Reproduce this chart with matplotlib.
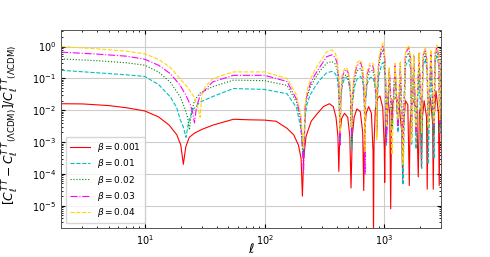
import numpy as np
import matplotlib
matplotlib.use("Agg")
import matplotlib.pyplot as plt

# beta = 0.001
ell_r = [2, 3, 5, 7, 10, 13, 16, 18.5, 20, 21, 22, 23.5, 26, 30, 37, 45, 55, 75, 100, 125,
         154, 175, 192, 202, 207, 212, 222, 245, 273, 310, 348, 375, 395, 410, 417, 424, 440,
         465, 495, 515, 527, 540, 560, 590, 630, 660, 673, 685, 705, 740, 780, 805, 812, 820,
         840, 880, 920, 970, 1000, 1007, 1015, 1040, 1070, 1110, 1130, 1150, 1190, 1250, 1320,
         1400, 1422, 1445, 1500, 1570, 1616, 1640, 1720, 1860, 1920, 1960, 2000, 2040, 2080,
         2150, 2250, 2280, 2310, 2420, 2530, 2560, 2600, 2700, 2830, 2870, 2920, 3000]
val_r = [.016, .0158, .014, .012, .0095, .0062, .0034, .0017, .0008, .0002, .0007, .0014, .0019,
         .0025, .0034, .0042, .0052, .005, .0049, .0045, .0027, .0017, .0008, .0003, .00002,
         .0003, .0015, .0045, .0075, .013, .016, .013, .006, .0015, .00012, .0015, .0055, .008,
         .006, .0015, .000036, .0015, .006, .011, .009, .002, .00003, .002, .008, .013, .008,
         .0005, 1e-6, .0008, .01, .024, .028, .012, .0006, .000054, .0008, .012, .025, .008,
         .000008, .005, .022, .025, .018, .002, .000068, .003, .02, .015, .000043, .004, .022,
         .012, .00008, .008, .012, .00016, .006, .02, .006, .000033, .004, .025, .004, .000033,
         .005, .04, .008, .000043, .005, .012]

# low-ell part, one per beta
ell_c_lo = [2, 4, 7, 10, 13, 16.4, 18.5, 19.8, 21, 22.1, 23.2, 25, 29, 37, 55, 100, 154, 185, 200]
val_c_lo = [.18, .15, .13, .115, .065, .026, .012, .005, .003, .0014, .004, .01, .018, .027,
            .048, .045, .033, .012, .003]
ell_g_lo = [2, 4, 7, 10, 13, 16.4, 19.8, 21.5, 22.8, 23.6, 24.5, 26, 29, 37, 55, 100, 154, 185, 200]
val_g_lo = [.41, .36, .31, .26, .16, .075, .026, .012, .006, .0024, .008, .02, .035, .055, .088,
            .085, .06, .018, .005]
ell_m_lo = [2, 4, 7, 10, 13, 16.4, 19.8, 22, 24, 25.2, 26, 27, 29, 37, 55, 100, 154, 185, 200]
val_m_lo = [.67, .58, .5, .4, .26, .14, .06, .03, .015, .008, .004, .012, .03, .078, .125, .125,
            .08, .022, .006]
ell_y_lo = [2, 4, 7, 10, 13, 16.4, 19.8, 23, 26, 27.8, 29, 30, 32, 37, 55, 100, 154, 185, 200]
val_y_lo = [1.0, .85, .72, .59, .4, .22, .096, .05, .025, .012, .006, .03, .055, .1, .16, .16,
            .1, .03, .008]

# high-ell part, shared ell for the four larger betas
ell_hi = [212, 218, 226, 240, 260, 290, 330, 365, 390, 405, 418, 427, 433, 445, 465, 480, 500,
          520, 535, 542, 560, 590, 635, 660, 680, 690, 697, 720, 760, 800, 830, 855, 865, 872,
          900, 950, 980, 1010, 1030, 1040, 1100, 1160, 1230, 1300, 1360, 1430, 1500, 1600, 1660,
          1690, 1760, 1840, 1950, 2050, 2100, 2200, 2280, 2320, 2450, 2600, 2650, 2750, 2850,
          2900, 3000]
val_c_hi = [3.6e-4, .006, .015, .03, .05, .09, .15, .166, .14, .1, .03, 1e-3, .02, .06, .1, .105,
            .09, .04, 6e-4, .015, .05, .095, .115, .08, .02, 3e-3, .02, .07, .105, .11, .07, .02,
            3e-3, .02, .12, .28, .32, .15, .03, 8e-4, .13, 2.4e-3, .15, 2e-3, .12, 4.5e-5, .25,
            .38, .2, 8e-4, .28, 6e-4, .3, 1.5e-4, .25, .4, .15, 2e-4, .35, 3e-4, .3, .5, .25,
            2e-3, .35]
val_g_hi = [3e-4, .01, .025, .05, .09, .17, .3, .34, .28, .18, .05, 1.5e-3, .02, .08, .12, .13,
            .1, .04, 1e-3, .02, .08, .17, .21, .13, .03, 2e-3, .02, .1, .17, .18, .1, .02,
            1.5e-3, .03, .25, .65, .8, .3, .05, 2e-3, .17, 3e-3, .2, 4e-3, .2, 1e-3, .4, .65, .3,
            1.5e-3, .4, 2e-3, .45, 2.5e-3, .35, .6, .2, 3e-3, .55, 2e-3, .45, .75, .35, 3e-3, .5]
val_m_hi = [1.1e-4, .012, .03, .065, .12, .23, .48, .55, .45, .28, .08, 8e-4, .025, .11, .17,
            .19, .15, .05, 1.5e-3, .03, .11, .25, .31, .19, .03, 1e-4, .025, .14, .25, .25, .14,
            .03, 2e-3, .05, .35, .85, 1.05, .4, .06, 1e-3, .2, 5e-3, .25, 3e-3, .3, 8e-4, .6, .95,
            .4, 3e-3, .5, 2e-3, .6, 4e-3, .5, .85, .3, 5e-3, .7, 3e-3, .6, 1.0, .5, 4e-3, .7]
val_y_hi = [6e-4, .015, .04, .09, .17, .33, .68, .79, .62, .38, .1, 2e-3, .03, .13, .2, .22, .17,
            .06, 3e-3, .035, .13, .31, .38, .24, .05, 5e-4, .03, .17, .3, .3, .17, .04, 1.2e-3,
            .06, .45, 1.1, 1.3, .5, .08, 3e-3, .22, 4e-4, .3, 5e-3, .35, 2e-4, .7, 1.1, .45, 1e-3,
            .55, 3e-3, .65, 2e-3, .55, .95, .35, 3e-3, .8, 4e-3, .65, 1.1, .55, 5e-3, .8]

betas = ["0.001", "0.01", "0.02", "0.03", "0.04"]

fig = plt.figure(figsize=(4.9, 2.57), dpi=100)
ax = fig.add_axes([0.1245, 0.113, 0.7765, 0.77])

ax.plot(ell_r, val_r, color="red", ls="-", lw=0.8, label=r"$\beta = %s$" % betas[0])
ax.plot(ell_c_lo + ell_hi, val_c_lo + val_c_hi, color="c", ls="--", lw=0.8,
        label=r"$\beta = %s$" % betas[1])
ax.plot(ell_g_lo + ell_hi, val_g_lo + val_g_hi, color="g", ls=":", lw=0.8,
        label=r"$\beta = %s$" % betas[2])
ax.plot(ell_m_lo + ell_hi, val_m_lo + val_m_hi, color="magenta", ls="-.", lw=0.8,
        label=r"$\beta = %s$" % betas[3])
ax.plot(ell_y_lo + ell_hi, val_y_lo + val_y_hi, color="gold", ls="--", lw=0.8,
        label=r"$\beta = %s$" % betas[4])

ax.set_xscale("log")
ax.set_yscale("log")
ax.set_xlim(2, 3000)
ax.set_ylim(2e-6, 3.3)
ax.grid(True, which="major", color="#cccccc", lw=0.8)
ax.tick_params(which="both", direction="in", top=True, right=True, labelsize=7)
ax.tick_params(which="major", length=3)
ax.tick_params(which="minor", length=1.5)
for s in ax.spines.values():
    s.set_color("#555555")
    s.set_linewidth(0.7)

ax.set_xlabel(r"$\ell$", fontsize=9.5, labelpad=-3)
ax.set_ylabel(r"$[C_\ell^{T\,T}-C_\ell^{T\,T}{}_{(\Lambda{\rm CDM})}]/C_\ell^{T\,T}{}_{(\Lambda{\rm CDM})}$",
              fontsize=8.8, labelpad=1)
ax.yaxis.set_label_coords(-0.105, 0.52)
ax.legend(loc="lower left", fontsize=6.5, handlelength=2.2, labelspacing=0.35,
          borderpad=0.5, framealpha=0.8)

fig.savefig("out.png", dpi=100)
